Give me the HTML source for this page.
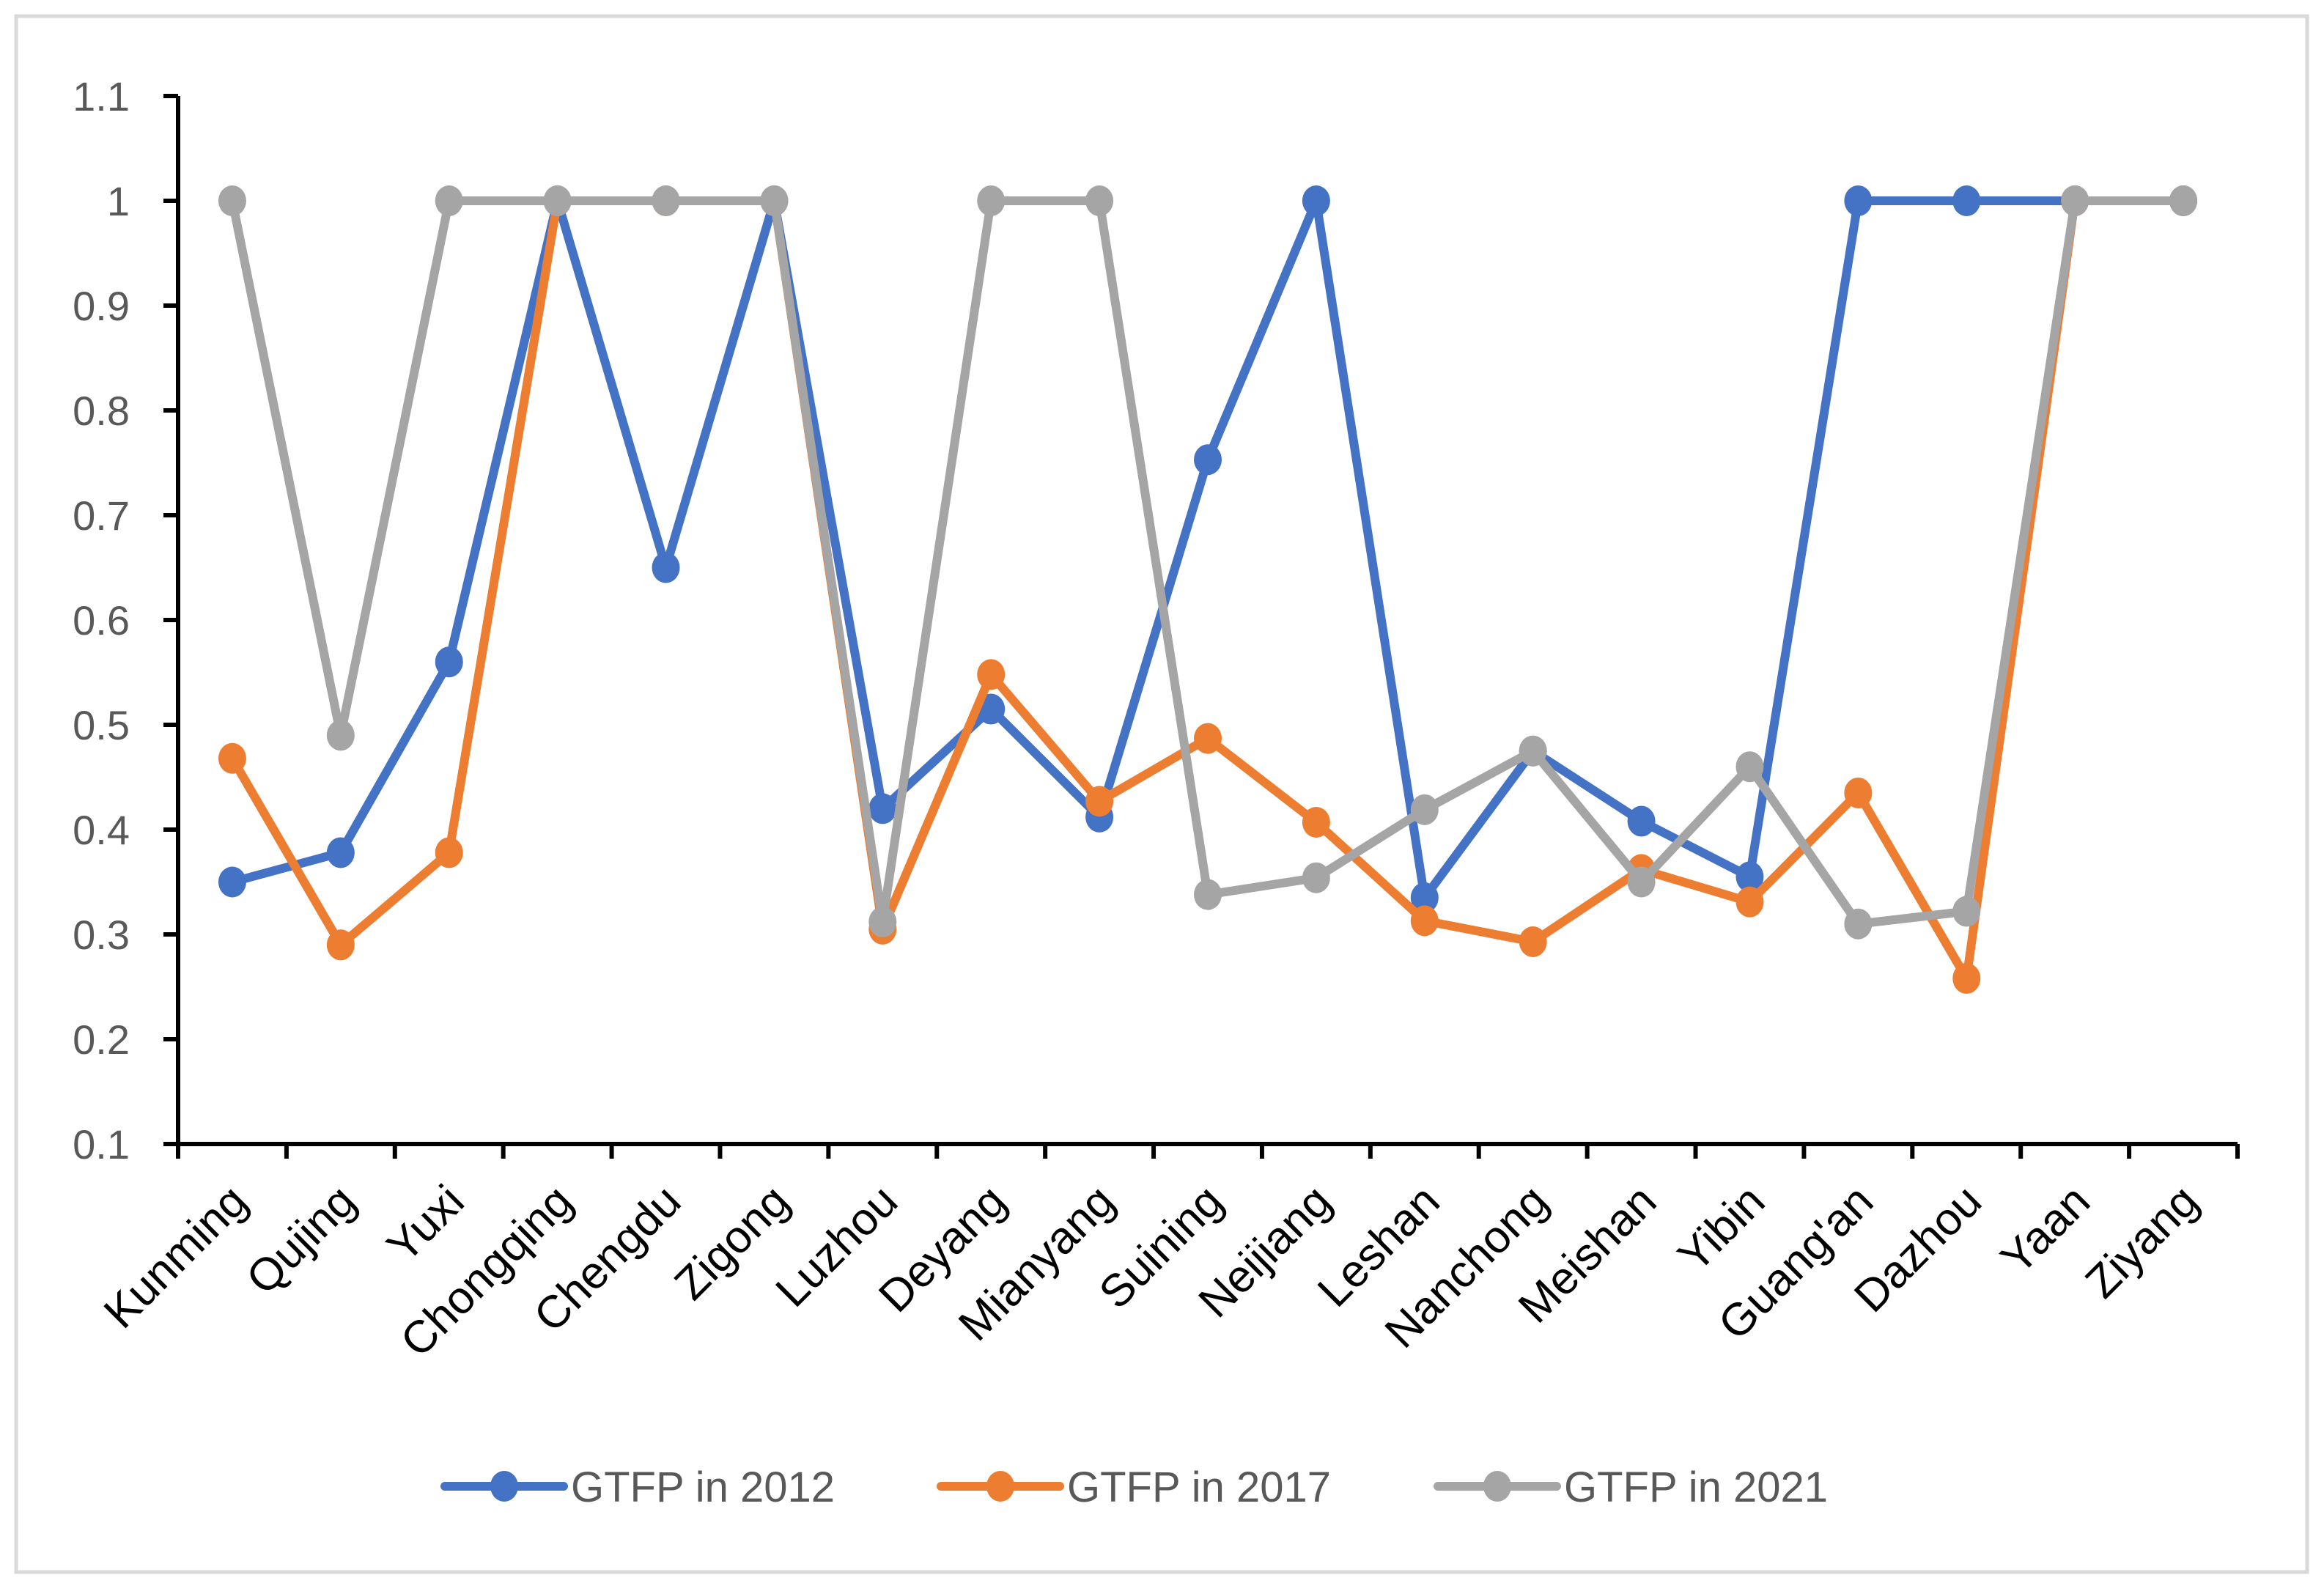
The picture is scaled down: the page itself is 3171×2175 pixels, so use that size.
<!DOCTYPE html>
<html><head><meta charset="utf-8"><style>
html,body{margin:0;padding:0;background:#fff}
svg{display:block}
text{font-family:"Liberation Sans",sans-serif}
</style></head><body>
<svg id="chart" width="3171" height="2175" viewBox="0 0 3171 2175" xmlns="http://www.w3.org/2000/svg">
<rect x="22" y="22" width="3126" height="2123" fill="#fff" stroke="#d9d9d9" stroke-width="5"/>
<g id="axes"></g>
<g id="series"></g>
<g id="legend"></g>
</svg>
<script>
const categories = ["Kunming","Qujing","Yuxi","Chongqing","Chengdu","Zigong","Luzhou","Deyang","Mianyang","Suining","Neijiang","Leshan","Nanchong","Meishan","Yibin","Guang'an","Dazhou","Yaan","Ziyang"];
const gtfp2012 = [0.35,0.378,0.56,1,0.65,1,0.42,0.515,0.412,0.753,1,0.335,0.475,0.408,0.355,1,1,1,1];
const gtfp2017 = [0.468,0.29,0.378,1,1,1,0.305,0.548,0.427,0.487,0.407,0.313,0.293,0.362,0.331,0.435,0.258,1,1];
const gtfp2021 = [1,0.49,1,1,1,1,0.312,1,1,0.338,0.354,0.419,0.475,0.35,0.46,0.31,0.322,1,1];
const yTicks = [0.1,0.2,0.3,0.4,0.5,0.6,0.7,0.8,0.9,1,1.1];
const yTickLabels = ["0.1","0.2","0.3","0.4","0.5","0.6","0.7","0.8","0.9","1","1.1"];
const seriesNames = ["GTFP in 2012","GTFP in 2017","GTFP in 2021"];

const NS="http://www.w3.org/2000/svg";
const X0=243,X1=3053,Y0=1561,Y1=131,YMIN=0.1,YMAX=1.1;
const step=(X1-X0)/categories.length;
const xScale=i=>X0+step*(i+0.5);
const yScale=v=>Y0-(v-YMIN)/(YMAX-YMIN)*(Y0-Y1);
function mk(tag,attrs,parent){const e=document.createElementNS(NS,tag);for(const k in attrs)e.setAttribute(k,attrs[k]);parent.appendChild(e);return e;}
const axes=document.getElementById('axes');
let yl=mk('line',{x1:X0,y1:Y1,x2:X0,y2:Y0,stroke:'#000','stroke-width':6},axes);


yTicks.forEach((t,i)=>{
  const y=yScale(t);
  const tk=mk('line',{x1:X0-20,y1:y,x2:X0,y2:y,stroke:'#000','stroke-width':6},axes);
  
  
  const tx=mk('text',{x:X0-66,y:y+20,'text-anchor':'end','font-size':56,fill:'#595959'},axes);
  tx.textContent=yTickLabels[i];
  
  
});
let xl=mk('line',{x1:X0-20,y1:Y0,x2:X1,y2:Y0,stroke:'#000','stroke-width':6},axes);


for(let i=0;i<=categories.length;i++){
  const x=X0+step*i;
  const tk=mk('line',{x1:x,y1:Y0,x2:x,y2:Y0+20,stroke:'#000','stroke-width':6},axes);
  
  
}
categories.forEach((c,i)=>{
  const x=xScale(i)+24,y=Y0+82;
  const tx=mk('text',{x:x,y:y,'text-anchor':'end','font-size':62,fill:'#000',transform:`rotate(-45 ${x} ${y})`},axes);
  tx.textContent=c;
  
  
});
const sg=document.getElementById('series');
const colors=['#4472c4','#ed7d31','#a5a5a5'];
[gtfp2012,gtfp2017,gtfp2021].forEach((arr,s)=>{
  const g=mk('g',{},sg);
  
  
  const pts=arr.map((v,i)=>xScale(i)+','+yScale(v)).join(' ');
  const pl=mk('polyline',{points:pts,fill:'none',stroke:colors[s],'stroke-width':12,'stroke-linejoin':'round'},g);
  
  
  arr.forEach((v,i)=>{
    const m=mk('ellipse',{cx:xScale(i),cy:yScale(v),rx:19,ry:21,fill:colors[s]},g);
    
    
  });
});
const lg=document.getElementById('legend');
const lx=[607,1284,1962], ly=2028;
seriesNames.forEach((n,s)=>{
  const g=mk('g',{},lg);
  
  
  mk('line',{x1:lx[s],y1:ly,x2:lx[s]+162,y2:ly,stroke:colors[s],'stroke-width':12,'stroke-linecap':'round'},g);
  mk('ellipse',{cx:lx[s]+81,cy:ly,rx:19,ry:21,fill:colors[s]},g);
  const t=mk('text',{x:lx[s]+172,y:ly+21,'font-size':58,fill:'#595959'},g);
  t.textContent=n;
  
  
});
</script>
</body></html>
